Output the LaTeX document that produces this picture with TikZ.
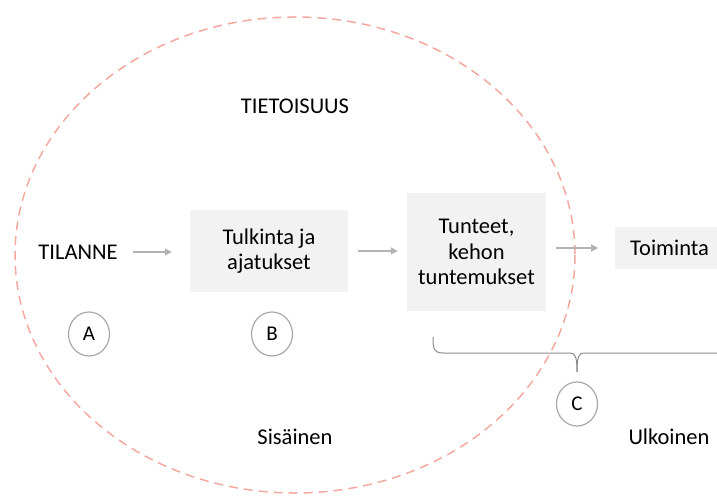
\documentclass[tikz,border=0pt]{standalone}
\usepackage{fontspec}
\setmainfont{Carlito}
\usetikzlibrary{arrows.meta,shapes.geometric}
\definecolor{aware}{HTML}{F4A9A0}
\definecolor{flow}{HTML}{B3B3B3}
\definecolor{boxfill}{HTML}{F2F2F2}
\definecolor{ring}{HTML}{A8A8A8}
\definecolor{brace}{HTML}{8C8C8C}
\tikzset{
  txt/.style={font=\fontsize{22.5}{25.5}\selectfont, text=black, inner sep=0pt, align=center},
  stepbox/.style={txt, fill=boxfill, inner sep=0pt},
  flowarrow/.style={draw=flow, line width=1.8pt, -{Triangle[length=7pt,width=7pt]}},
  letter/.style={ellipse, draw=ring, line width=1.2pt, minimum width=41pt, minimum height=44pt,
                 inner sep=0pt, font=\fontsize{21}{24}\selectfont},
}
\begin{document}
\begin{tikzpicture}[x=1pt,y=-1pt]
\useasboundingbox (0,0) rectangle (717,497);

% awareness boundary
\draw[aware, line width=1.5pt, dash pattern=on 9pt off 6pt] (295,255) ellipse [x radius=280, y radius=238];

\node[txt] (tieto) at (295,106) {TIETOISUUS};

% process chain
\node[txt] (tilanne) at (78,252) {TILANNE};
\node[stepbox, minimum width=158pt, minimum height=82pt] (tulkinta) at (269,251) {Tulkinta ja\\ajatukset};
\node[stepbox, minimum width=139pt, minimum height=118pt] (tunteet) at (476.5,252) {Tunteet,\\kehon\\tuntemukset};
\node[stepbox, minimum width=110pt, minimum height=42pt, anchor=west, text width=110pt, align=left] (toiminta) at (615,248) {\hspace*{15pt}Toiminta};

\draw[flowarrow, shorten <=15pt, shorten >=18pt] (tilanne.east) -- (tulkinta.west |- tilanne.east);
\draw[flowarrow, shorten <=10pt, shorten >=9pt] (tulkinta.east) -- (tunteet.west |- tulkinta.east);
\draw[flowarrow, shorten <=10pt, shorten >=17pt] (tunteet.east |- toiminta.west) -- (toiminta.west);

% stage markers
\node[letter] (a) at (89,334) {A};
\node[letter] (b) at (272,334) {B};
\node[letter] (c) at (577,404) {C};

% brace grouping the outer stages
\coordinate (bl) at (433,337);
\coordinate (bt) at (577,372);
\coordinate (br) at (717,353);
\draw[brace, line width=1pt]
  (bl) .. controls (433,350) and (434,353) .. (444,353) -- (570,353)
  .. controls (575,353) and (577,356) .. (bt);
\draw[brace, line width=1pt]
  (br) -- (584,353) .. controls (579,353) and (577,356) .. (bt);

\node[txt] (sis) at (295,437) {Sisäinen};
\node[txt] (ulk) at (669,437) {Ulkoinen};
\end{tikzpicture}
\end{document}
